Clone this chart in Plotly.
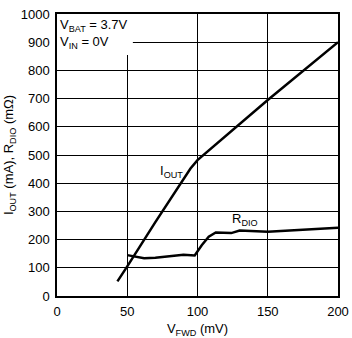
import plotly.graph_objects as go

iout_x = [43, 50, 70, 90, 95, 100, 150, 200]
iout_y = [52, 105, 262, 415, 452, 482, 695, 900]
rdio_x = [50, 55, 62, 70, 80, 90, 98, 103, 108, 113, 124, 130, 150, 200]
rdio_y = [145, 140, 134, 136, 141, 146, 144, 180, 210, 225, 223, 232, 228, 242]
x_ticks = [0, 50, 100, 150, 200]
y_ticks = [0, 100, 200, 300, 400, 500, 600, 700, 800, 900, 1000]

FONT = "Liberation Sans Narrow, Arial Narrow, Liberation Sans, Arial, sans-serif"

fig = go.Figure()
fig.add_trace(go.Scatter(x=iout_x, y=iout_y, mode="lines",
                         line=dict(color="black", width=2.5), showlegend=False))
fig.add_trace(go.Scatter(x=rdio_x, y=rdio_y, mode="lines",
                         line=dict(color="black", width=2.5), showlegend=False))

fig.add_shape(type="rect", xref="x", yref="y", x0=0, x1=54, y0=855, y1=1000,
              fillcolor="white", line=dict(width=0), layer="between")

fig.add_annotation(x=91, y=440, xref="x", yref="y", text="I<sub>OUT</sub>",
                   showarrow=False, xanchor="right", font=dict(size=13, color="black"))
fig.add_annotation(x=134, y=272, xref="x", yref="y", text="R<sub>DIO</sub>",
                   showarrow=False, font=dict(size=13, color="black"))
fig.add_annotation(x=1, y=995, xref="x", yref="y", xanchor="left", yanchor="top",
                   text="V<sub>BAT</sub> = 3.7V<br>V<sub>IN</sub> = 0V", align="left",
                   showarrow=False, font=dict(size=13, color="black"))

fig.update_xaxes(range=[0, 200], tickvals=x_ticks, showgrid=True, gridcolor="black",
                 gridwidth=1, showline=True, linecolor="black", linewidth=1.5, mirror=True,
                 ticks="outside", ticklen=3, tickcolor="rgba(0,0,0,0)", zeroline=False,
                 automargin=False,
                 title=dict(text="V<sub>FWD</sub> (mV)", font=dict(size=13, color="black"), standoff=6),
                 tickfont=dict(size=13, color="black"))
fig.update_yaxes(range=[0, 1000], tickvals=y_ticks, showgrid=True, gridcolor="black",
                 gridwidth=1, showline=True, linecolor="black", linewidth=1.5, mirror=True,
                 ticks="outside", ticklen=3, tickcolor="rgba(0,0,0,0)", zeroline=False,
                 automargin=False,
                 title=dict(text="I<sub>OUT</sub> (mA), R<sub>DIO</sub> (mΩ)",
                            font=dict(size=13, color="black"), standoff=4),
                 tickfont=dict(size=13, color="black"))

fig.update_layout(width=352, height=338, margin=dict(l=57, r=14, t=14, b=42),
                  plot_bgcolor="white", paper_bgcolor="white",
                  font=dict(family=FONT, color="black"))

fig.write_html("out.html")
